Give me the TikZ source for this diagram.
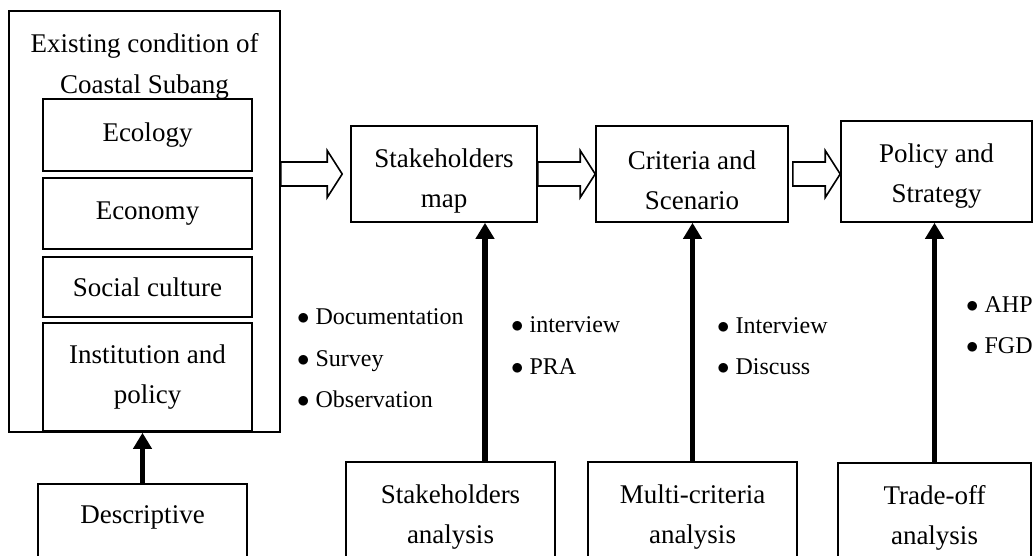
\documentclass[tikz,border=0pt]{standalone}
\usepackage{fontspec}
\setmainfont{Liberation Serif}
\usetikzlibrary{arrows.meta,calc,positioning}

\tikzset{
  box/.style={draw, line width=1.6pt, align=center, inner sep=0pt},
  bullets/.style={align=left, inner sep=0pt, anchor=north west,
                  font=\fontsize{24}{41.5}\selectfont},
  uparrow/.style={line width=5.5pt, -{Triangle[width=18pt,length=16pt]}},
  hollow/.style={draw, line width=1.6pt, fill=white, line join=miter}
}
% push the first line down a little
\newcommand\lowtext[1]{\rule{0pt}{#1}}
\newcommand\blockarrow[2]{%
  \draw[hollow] let \p1=(#1), \p2=(#2) in
    (\x1,\y1+12pt) -- (\x2-15pt,\y1+12pt) -- (\x2-15pt,\y1+23.5pt) -- (\x2,\y1)
    -- (\x2-15pt,\y1-23.5pt) -- (\x2-15pt,\y1-12pt) -- (\x1,\y1-12pt) -- cycle;}

\begin{document}
\begin{tikzpicture}[x=1pt,y=-1pt,font=\fontsize{27}{40}\selectfont]
\useasboundingbox (0,0) rectangle (1034,555);
\clip (0,0) rectangle (1034,555);

% existing condition
\node[box, minimum width=271pt, minimum height=421pt] (cond) at (144.5,221.5) {};
\node[align=center, inner sep=0pt, font=\fontsize{27}{41}\selectfont] (condtitle) at (144.5,66) {Existing condition of\\Coastal Subang};
\node[box, minimum width=209pt, minimum height=72pt] (ecol) at (147.5,135) {Ecology};
\node[box, minimum width=209pt, minimum height=71pt, below=5.4pt of ecol] (econ) {Economy};
\node[box, minimum width=209pt, minimum height=60pt, below=6.4pt of econ] (soc) {Social culture};
\node[box, minimum width=209pt, minimum height=108pt, below=4.4pt of soc] (inst) {Institution and\\policy};
\node[box, minimum width=209pt, text height=40pt, text depth=70pt, anchor=north] (desc) at (142.5,483) {Descriptive};

% main steps
\node[box, minimum width=186pt, minimum height=96pt] (smap) at (444,174) {\lowtext{32pt}Stakeholders\\map};
\node[box, minimum width=192pt, minimum height=96pt] (crit) at (692,174) {\lowtext{32pt}Criteria and\\Scenario};
\node[box, minimum width=191pt, minimum height=101pt] (pol) at (936.5,171.5) {\lowtext{28pt}Policy and\\Strategy};

% analyses
\node[box, minimum width=209pt, minimum height=110pt, anchor=north] (sana) at (450.5,461) {Stakeholders\\analysis};
\node[box, minimum width=209pt, minimum height=110pt, anchor=north] (mana) at (692.5,461) {Multi-criteria\\analysis};
\node[box, minimum width=193pt, minimum height=110pt, anchor=north] (tana) at (934.5,462) {Trade-off\\analysis};

% methods
\node[bullets] (condlist) at (297,308.6) {$\bullet$ Documentation\\$\bullet$ Survey\\$\bullet$ Observation};
\node[bullets] (salist) at (511,316.6) {$\bullet$ interview\\$\bullet$ PRA};
\node[bullets] (mcalist) at (717,317) {$\bullet$ Interview\\$\bullet$ Discuss};
\node[bullets] (tolist) at (966,296) {$\bullet$ AHP\\$\bullet$ FGD};

% flow
\blockarrow{cond.east |- smap.west}{$(smap.west)+(-8,0)$}
\blockarrow{smap.east}{crit.west}
\blockarrow{$(crit.east)+(4,0)$}{pol.west |- crit.east}

\draw[uparrow] (desc.north) -- (cond.south -| desc.north);
\draw[uparrow] ($(sana.north)+(34.5,0)$) -- ($(smap.south -| sana.north)+(34.5,0)$);
\draw[uparrow] (mana.north) -- (crit.south -| mana.north);
\draw[uparrow] (tana.north) -- (pol.south -| tana.north);
\end{tikzpicture}
\end{document}
